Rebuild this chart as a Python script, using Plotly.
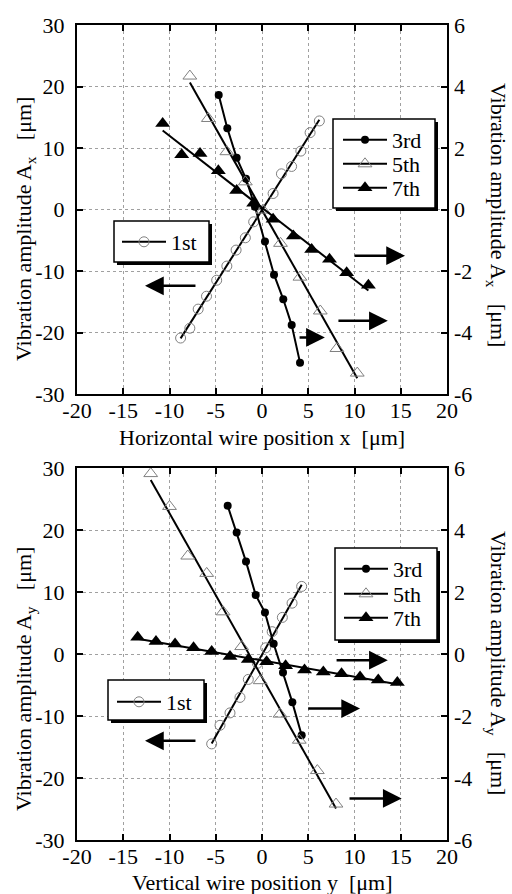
import numpy as np
import plotly.graph_objects as go

# ---------------- data (top: horizontal scan, bottom: vertical scan) ----------------
# 1st harmonic (left axis, um)
top_1st_x = [-8.8, -7.8, -6.9, -6.0, -4.9, -3.8, -2.8, -1.8, -0.9, 1.2, 2.1, 3.2, 4.2, 5.2, 6.2]
top_1st_y = [-20.9, -19.3, -16.2, -14.1, -11.5, -9.2, -6.6, -4.6, -2.0, 2.6, 5.8, 7.0, 9.5, 12.5, 14.4]
# 3rd / 5th / 7th harmonics (right axis, um)
top_3rd_x = [-4.68, -3.75, -2.74, -1.73, -0.76, 0.32, 1.3, 2.3, 3.21, 4.11]
top_3rd_y = [3.72, 2.64, 1.68, 1.0, 0.09, -1.04, -2.12, -2.92, -3.76, -4.98]
top_5th_x = [-7.8, -5.8, -3.8, -1.8, 0.1, 2.0, 4.1, 6.3, 8.1, 10.3]
top_5th_y = [4.34, 2.96, 1.88, 0.9, -0.02, -1.1, -2.2, -3.3, -4.52, -5.32]
top_7th_x = [-10.74, -8.68, -6.7, -4.72, -2.74, -0.9, 1.2, 3.39, 5.37, 7.3, 9.15, 11.5]
top_7th_y = [2.8, 1.78, 1.82, 1.26, 0.62, 0.2, -0.32, -0.86, -1.3, -1.62, -2.06, -2.46]

bot_1st_x = [-5.44, -4.54, -3.46, -2.38, -1.48, -0.5, 0.4, 1.1, 2.2, 3.25, 4.29]
bot_1st_y = [-14.5, -11.5, -9.5, -7.0, -4.1, -1.5, 1.0, 3.6, 5.9, 8.2, 10.9]
bot_3rd_x = [-3.71, -2.74, -1.73, -0.68, 0.32, 1.26, 2.27, 3.28, 4.29]
bot_3rd_y = [4.78, 3.92, 2.98, 1.9, 1.34, 0.33, -0.6, -1.56, -2.62]
bot_5th_x = [-12.03, -10.0, -8.03, -5.98, -4.2, -2.2, -0.2, 1.95, 4.03, 5.98, 8.0]
bot_5th_y = [5.82, 4.76, 3.16, 2.6, 1.36, 0.24, -0.86, -1.94, -2.78, -3.76, -4.84]
bot_7th_x = [-13.44, -11.46, -9.4, -7.4, -5.44, -3.46, -1.48, 0.5, 2.55, 4.6, 6.63, 8.6, 10.6, 12.57, 14.63]
bot_7th_y = [0.54, 0.4, 0.32, 0.2, 0.08, -0.08, -0.18, -0.25, -0.38, -0.52, -0.58, -0.64, -0.74, -0.84, -0.92]

# tick labels
x_ticks = [-20, -15, -10, -5, 0, 5, 10, 15, 20]
yl_ticks = [-30, -20, -10, 0, 10, 20, 30]
yr_ticks = [-6, -4, -2, 0, 2, 4, 6]

# arrows (tail x, tip x, y on left axis)
top_arrows = [(-7.03, -12.65, -12.4), (9.84, 15.46, -7.5), (8.1, 13.6, -18.1), (3.9, 6.8, -20.8)]
bot_arrows = [(-7.03, -12.65, -14.0), (7.9, 13.6, -1.0), (4.83, 10.6, -8.8), (9.3, 15.1, -23.3)]

# ---------------- layout geometry (pixels) ----------------
W, H = 512, 894
L, R, T, B = 77, 447, 25, 840
PW, PH = R - L, B - T


def px_x(px):
    return (px - L) / PW


def px_y(py):
    return (B - py) / PH


FONT = '"Liberation Serif", "Times New Roman", Times, serif'
GRAY = "#808080"

fig = go.Figure()

STY = {
    "1st": dict(symbol="circle-open", size=10, color=GRAY, line=dict(width=1, color=GRAY)),
    "3rd": dict(symbol="circle", size=8, color="black"),
    "5th": dict(symbol="triangle-up-open", size=12, color=GRAY, line=dict(width=1, color=GRAY)),
    "7th": dict(symbol="triangle-up", size=13, color="black"),
}

# legend entry placement: (legend id, line start px, center py)
LEG = {
    ("top", "1st"): ("legend", 122, 242),
    ("top", "3rd"): ("legend2", 343, 140),
    ("top", "5th"): ("legend3", 343, 164),
    ("top", "7th"): ("legend4", 343, 188),
    ("bot", "1st"): ("legend5", 117, 702),
    ("bot", "3rd"): ("legend6", 344, 569),
    ("bot", "5th"): ("legend7", 344, 594),
    ("bot", "7th"): ("legend8", 344, 618),
}


def add_series(x, y, name, panel, xa, ya, fit):
    x = np.array(x, dtype=float)
    y = np.array(y, dtype=float)
    if fit:
        k, b0 = np.polyfit(x, y, 1)
        xs = np.array([x.min(), x.max()])
        fig.add_trace(go.Scatter(x=xs, y=k * xs + b0, mode="lines", xaxis=xa, yaxis=ya,
                                 line=dict(color="black", width=2), showlegend=False,
                                 hoverinfo="skip"))
        fig.add_trace(go.Scatter(x=x, y=y, mode="markers", xaxis=xa, yaxis=ya,
                                 marker=STY[name], showlegend=False, name=name))
    else:
        fig.add_trace(go.Scatter(x=x, y=y, mode="lines+markers", xaxis=xa, yaxis=ya,
                                 marker=STY[name], line=dict(color="black", width=2),
                                 showlegend=False, name=name))
    legid = LEG[(panel, name)][0]
    fig.add_trace(go.Scatter(x=[None], y=[None], mode="lines+markers", xaxis=xa, yaxis=ya,
                             marker=STY[name], line=dict(color="black", width=2),
                             name=name, legend=legid, showlegend=True))


add_series(top_1st_x, top_1st_y, "1st", "top", "x", "y", True)
add_series(top_3rd_x, top_3rd_y, "3rd", "top", "x", "y2", False)
add_series(top_5th_x, top_5th_y, "5th", "top", "x", "y2", True)
add_series(top_7th_x, top_7th_y, "7th", "top", "x", "y2", True)
add_series(bot_1st_x, bot_1st_y, "1st", "bot", "x2", "y3", True)
add_series(bot_3rd_x, bot_3rd_y, "3rd", "bot", "x2", "y4", False)
add_series(bot_5th_x, bot_5th_y, "5th", "bot", "x2", "y4", True)
add_series(bot_7th_x, bot_7th_y, "7th", "bot", "x2", "y4", True)

tickfont = dict(family=FONT, size=22, color="black")

xcommon = dict(range=[-20, 20], tickvals=x_ticks, ticktext=[str(v) for v in x_ticks],
               showline=True, linewidth=2, linecolor="black", mirror="ticks",
               ticks="inside", ticklen=6, tickwidth=2, tickcolor="black",
               showgrid=True, gridcolor="#a0a0a0", griddash="dot", gridwidth=1,
               zeroline=False, tickfont=tickfont, fixedrange=True, ticklabelstandoff=-4)
ylcommon = dict(range=[-30, 30], tickvals=yl_ticks, ticktext=[str(v) for v in yl_ticks],
                showline=True, linewidth=2, linecolor="black", mirror=True,
                ticks="inside", ticklen=6, tickwidth=2, tickcolor="black",
                showgrid=True, gridcolor="#a0a0a0", griddash="dot", gridwidth=1,
                zeroline=False, tickfont=tickfont, ticklabelstandoff=6)
yrcommon = dict(range=[-6, 6], tickvals=yr_ticks, ticktext=[str(v) for v in yr_ticks],
                side="right", showline=False, ticks="inside", ticklen=6, tickwidth=2,
                tickcolor="black", showgrid=False, zeroline=False, tickfont=tickfont,
                ticklabelstandoff=6)

top_dom = [px_y(394), 1.0]
bot_dom = [0.0, px_y(468)]

fig.update_layout(
    width=W, height=H,
    margin=dict(l=L, r=W - R, t=T, b=H - B),
    paper_bgcolor="white", plot_bgcolor="white",
    font=dict(family=FONT, color="black"),
    xaxis=dict(anchor="y", **xcommon),
    yaxis=dict(domain=top_dom, anchor="x", **ylcommon),
    yaxis2=dict(overlaying="y", anchor="x", **yrcommon),
    xaxis2=dict(anchor="y3", **xcommon),
    yaxis3=dict(domain=bot_dom, anchor="x2", **ylcommon),
    yaxis4=dict(overlaying="y3", anchor="x2", **yrcommon),
)

# legend boxes as shapes (with drop shadow)
legbox = [(114, 221, 209, 262), (333, 119, 435, 208), (108, 680, 204, 720), (335, 548, 437, 640)]
shapes = []
for (x0, y0, x1, y1) in legbox:
    shapes.append(dict(type="rect", xref="paper", yref="paper",
                       x0=px_x(x0 + 3), x1=px_x(x1 + 3), y0=px_y(y1 + 3), y1=px_y(y0 + 3),
                       fillcolor="black", line=dict(width=0), layer="above"))
    shapes.append(dict(type="rect", xref="paper", yref="paper",
                       x0=px_x(x0), x1=px_x(x1), y0=px_y(y1), y1=px_y(y0),
                       fillcolor="white", line=dict(width=1.5, color="black"), layer="above"))
fig.update_layout(shapes=shapes)

for (panel, name), (legid, lx, cy) in LEG.items():
    fig.update_layout(**{legid: dict(x=px_x(lx - 5), y=px_y(cy), xanchor="left", yanchor="middle",
                                     bgcolor="rgba(0,0,0,0)", borderwidth=0, itemwidth=44,
                                     font=dict(family=FONT, size=22, color="black"),
                                     itemclick=False, itemdoubleclick=False)})

ann = []
for (tail, tip, yy) in top_arrows:
    ann.append(dict(x=tip, y=yy, ax=tail, ay=yy, xref="x", yref="y", axref="x", ayref="y",
                    showarrow=True, arrowhead=2, arrowsize=1.5, arrowwidth=2.5,
                    arrowcolor="black", text=""))
for (tail, tip, yy) in bot_arrows:
    ann.append(dict(x=tip, y=yy, ax=tail, ay=yy, xref="x2", yref="y3", axref="x2", ayref="y3",
                    showarrow=True, arrowhead=2, arrowsize=1.5, arrowwidth=2.5,
                    arrowcolor="black", text=""))

tfont = dict(family=FONT, size=22, color="black")
titles = [
    ("Horizontal wire position x  [μm]", 0.5, px_y(438), 0),
    ("Vertical wire position y  [μm]", 0.5, px_y(883), 0),
    ("Vibration amplitude A<sub>x</sub>   [μm]", px_x(25), px_y(229), -90),
    ("Vibration amplitude A<sub>x</sub>   [μm]", px_x(497), px_y(215), 90),
    ("Vibration amplitude A<sub>y</sub>   [μm]", px_x(25), px_y(679), -90),
    ("Vibration amplitude A<sub>y</sub>   [μm]", px_x(497), px_y(663), 90),
]
for text, xx, yy, ang in titles:
    ann.append(dict(text=text, x=xx, y=yy, xref="paper", yref="paper", showarrow=False,
                    textangle=ang, font=tfont, xanchor="center", yanchor="middle"))
fig.update_layout(annotations=ann)

fig.write_html("out.html")
